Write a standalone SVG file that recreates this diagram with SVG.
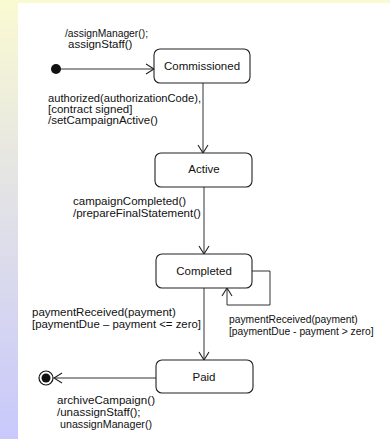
<svg xmlns="http://www.w3.org/2000/svg" width="390" height="439" viewBox="0 0 390 439">
  <style>
    text { font-family: "Liberation Sans", Arial, sans-serif; font-size: 11.5px; fill: #111; }
    .small { font-size: 10.3px; }
    .state { fill: #fff; stroke: #222; stroke-width: 1.1; }
    .conn { fill: none; stroke: #333; stroke-width: 1; }
    .mid { text-anchor: middle; }
  </style>
  <defs>
    <linearGradient id="sideband" x1="0" y1="0" x2="0" y2="1">
      <stop offset="0" stop-color="#fafad2"/>
      <stop offset="0.45" stop-color="#e2e2e6"/>
      <stop offset="1" stop-color="#c8c8fc"/>
    </linearGradient>
    <marker id="open" markerWidth="10" markerHeight="12" refX="9" refY="6" orient="auto" markerUnits="userSpaceOnUse">
      <path d="M1,1 L9,6 L1,11" fill="none" stroke="#222" stroke-width="1.1"/>
    </marker>
  </defs>

  <!-- page background -->
  <rect x="0" y="0" width="390" height="439" fill="#fff"/>
  <rect x="0" y="0" width="390" height="3" fill="#fafad2"/>
  <rect x="0" y="0" width="18" height="439" fill="url(#sideband)"/>

  <g id="connectors">
    <path class="conn" d="M56,69 H154" marker-end="url(#open)"/>
    <path class="conn" d="M203,83 V153" marker-end="url(#open)"/>
    <path class="conn" d="M204,187 V254" marker-end="url(#open)"/>
    <path class="conn" d="M252,271 H270 V305 H227 V288" marker-end="url(#open)"/>
    <path class="conn" d="M204,288 V360" marker-end="url(#open)"/>
    <path class="conn" d="M156,378 H54" marker-end="url(#open)"/>
    <text x="65" y="37" textLength="83" lengthAdjust="spacingAndGlyphs">/assignManager();</text>
    <text x="68" y="48">assignStaff()</text>
    <text x="48" y="102" textLength="153" lengthAdjust="spacingAndGlyphs">authorized(authorizationCode),</text>
    <text x="48" y="113">[contract signed]</text>
    <text x="48" y="124">/setCampaignActive()</text>
    <text x="73" y="205">campaignCompleted()</text>
    <text x="73" y="217">/prepareFinalStatement()</text>
    <text x="32" y="316">paymentReceived(payment)</text>
    <text x="32" y="328" textLength="169" lengthAdjust="spacingAndGlyphs">[paymentDue – payment &lt;= zero]</text>
    <text class="small" x="229" y="323">paymentReceived(payment)</text>
    <text class="small" x="229" y="335">[paymentDue - payment &gt; zero]</text>
    <text x="57" y="404" textLength="98" lengthAdjust="spacingAndGlyphs">archiveCampaign()</text>
    <text x="57" y="416">/unassignStaff();</text>
    <text x="60" y="428" textLength="92" lengthAdjust="spacingAndGlyphs">unassignManager()</text>
  </g>

  <g id="initial">
    <circle cx="56" cy="69" r="5" fill="#111"/>
  </g>
  <g id="commissioned">
    <rect class="state" x="154" y="49" width="96" height="34" rx="6"/>
    <text class="mid" x="202" y="70">Commissioned</text>
  </g>
  <g id="active">
    <rect class="state" x="155" y="153" width="97" height="34" rx="6"/>
    <text class="mid" x="204" y="173">Active</text>
  </g>
  <g id="completed">
    <rect class="state" x="156" y="254" width="96" height="34" rx="6"/>
    <text class="mid" x="204" y="275">Completed</text>
  </g>
  <g id="paid">
    <rect class="state" x="156" y="360" width="97" height="33" rx="6"/>
    <text class="mid" x="204" y="381">Paid</text>
  </g>
  <g id="final">
    <circle cx="46" cy="378" r="7" fill="#fff" stroke="#111" stroke-width="1.2"/>
    <circle cx="46" cy="378" r="4.5" fill="#111"/>
  </g>
</svg>
